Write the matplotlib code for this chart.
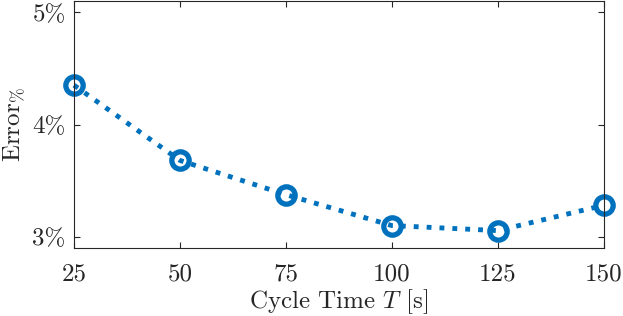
import matplotlib
matplotlib.use("Agg")
import matplotlib.pyplot as plt

plt.rcParams["font.family"] = "serif"
plt.rcParams["font.serif"] = ["cmr10", "DejaVu Serif"]
plt.rcParams["mathtext.fontset"] = "cm"
plt.rcParams["axes.unicode_minus"] = False

cycle_time = [25, 50, 75, 100, 125, 150]
error_pct = [4.35, 3.68, 3.375, 3.10, 3.055, 3.28]

yticks = [3, 4, 5]
ytick_labels = ["3%", "4%", "5%"]

blue = "#0072BD"
axis_col = "#262626"

fig = plt.figure(figsize=(6.23, 3.16), dpi=100)
ax = fig.add_axes([74 / 623, 1 - 248 / 316, 529.7 / 623, 247 / 316])

ax.plot(cycle_time, error_pct, color=blue, linestyle=":", linewidth=3.5,
        marker="o", markersize=12.5, markerfacecolor="none",
        markeredgewidth=3.8, markeredgecolor=blue, clip_on=False)

ax.set_xlim(25, 150)
ax.set_ylim(2.9, 5.1)
ax.set_xticks(cycle_time)
ax.set_yticks(yticks)
ax.set_yticklabels(ytick_labels)

ax.tick_params(direction="in", top=True, right=True, length=4, width=0.8,
               color=axis_col, labelcolor=axis_col, labelsize=18)
ax.tick_params(axis="x", pad=11)
ax.tick_params(axis="y", pad=6)
for s in ax.spines.values():
    s.set_color(axis_col)
    s.set_linewidth(0.8)

ax.set_xlabel("Cycle Time $T$ [s]", fontsize=18, color=axis_col, labelpad=1)
ax.set_ylabel("Error$_{\\%}$", fontsize=18, color=axis_col, labelpad=4)

fig.savefig("out.png", dpi=100)
